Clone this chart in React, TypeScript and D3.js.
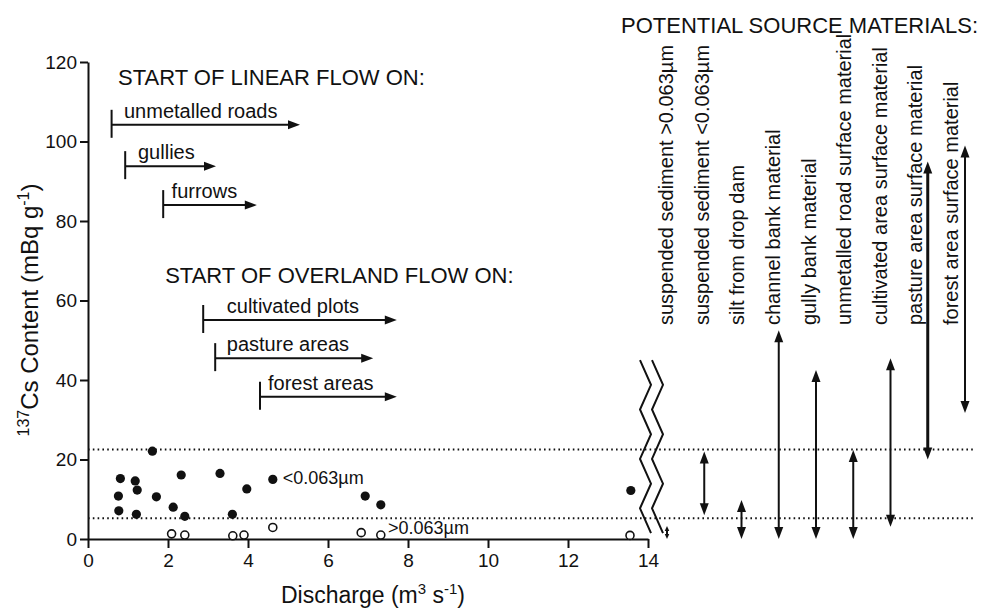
import React, { useEffect, useRef } from 'react';
import * as d3 from 'd3';

// axis ticks
const xTicks = [0, 2, 4, 6, 8, 10, 12, 14];
const yTicks = [0, 20, 40, 60, 80, 100, 120];

// suspended sediment <0.063um (filled dots): discharge, 137Cs
const fineQ = [0.77, 0.76, 0.81, 1.18, 1.23, 1.21, 1.61, 1.71, 2.13, 2.33, 2.42, 3.3, 3.61, 3.97, 4.62, 6.93, 7.32, 13.57];
const fineCs = [7.1, 10.8, 15.2, 14.6, 12.3, 6.2, 22.1, 10.6, 8.0, 16.1, 5.7, 16.5, 6.2, 12.6, 15.0, 10.8, 8.6, 12.2];

// suspended sediment >0.063um (open dots)
const coarseQ = [2.09, 2.42, 3.62, 3.9, 4.62, 6.83, 7.32, 13.55];
const coarseCs = [1.3, 1.0, 0.8, 1.0, 2.9, 1.6, 1.0, 0.9];

// dotted reference lines (range of <0.063um sediment)
const dottedLevels = [22.5, 5.2];

// start of linear / overland flow
const flowLabels = ['unmetalled roads', 'gullies', 'furrows', 'cultivated plots', 'pasture areas', 'forest areas'];
const flowStart = [0.59, 0.93, 1.88, 2.88, 3.18, 4.3];
const flowEnd = [5.3, 3.2, 4.22, 7.72, 7.13, 7.72];
const flowLevel = [104.2, 93.8, 84.0, 55.1, 45.5, 35.8];
const flowLabelQ = [0.9, 1.25, 2.09, 3.47, 3.47, 4.5];

// potential source materials: 137Cs range
const sources = [
  'suspended sediment >0.063\u00b5m',
  'suspended sediment <0.063\u00b5m',
  'silt from drop dam',
  'channel bank material',
  'gully bank material',
  'unmetalled road surface material',
  'cultivated area surface material',
  'pasture area surface material',
  'forest area surface material',
];
const sourceLow = [0, 6.0, 0, 0, 0, 0, 3.1, 20.0, 31.7];
const sourceHigh = [3.3, 22.0, 9.8, 52.5, 42.5, 22.4, 45.5, 95.0, 99.0];

const FONT = '"Liberation Sans", Arial, Helvetica, sans-serif';

const App = () => {
  const svgRef = useRef<SVGSVGElement>(null);

  useEffect(() => {
    const svg = d3.select(svgRef.current);
    const width = 993;
    const height = 610;
    svg.attr('width', width).attr('height', height);

    const x = d3.scaleLinear().domain([0, 14]).range([88, 648]);
    const y = d3.scaleLinear().domain([0, 120]).range([539, 62]);
    const arrowX = d3.scalePoint<string>().domain(sources).range([667, 965]);
    const labelX = d3.scalePoint<string>().domain(sources).range([667, 952]);

    const g = svg.append('g').style('font-family', FONT).attr('fill', '#111');

    // arrow head helper
    const head = (px: number, py: number, dir: string, len = 12, hw = 4.5) => {
      let pts: number[][] = [];
      if (dir === 'right') pts = [[px, py], [px - len, py - hw], [px - len, py + hw]];
      if (dir === 'up') pts = [[px, py], [px - hw, py + len], [px + hw, py + len]];
      if (dir === 'down') pts = [[px, py], [px - hw, py - len], [px + hw, py - len]];
      g.append('path').attr('d', 'M' + pts.map(p => p.join(',')).join('L') + 'Z').attr('fill', '#111');
    };

    // dotted lines
    dottedLevels.forEach(v => {
      g.append('line')
        .attr('x1', x(0)).attr('x2', 974)
        .attr('y1', y(v)).attr('y2', y(v))
        .attr('stroke', '#111').attr('stroke-width', 2)
        .attr('stroke-dasharray', '1.6 3.2');
    });

    // axes
    const xAxis = g.append('g').attr('transform', `translate(0,${y(0)})`)
      .call(d3.axisBottom(x).tickValues(xTicks).tickSize(9).tickSizeOuter(0).tickPadding(6));
    const yAxis = g.append('g').attr('transform', `translate(${x(0)},0)`)
      .call(d3.axisLeft(y).tickValues(yTicks).tickSize(8).tickSizeOuter(0).tickPadding(3));
    [xAxis, yAxis].forEach(a => {
      a.select('.domain').attr('stroke', '#111').attr('stroke-width', 2);
      a.selectAll('.tick line').attr('stroke', '#111').attr('stroke-width', 2);
      a.selectAll('.tick text').attr('fill', '#111').style('font-size', '19px').style('font-family', FONT);
    });

    // axis titles
    const xt = g.append('text').attr('x', 373).attr('y', 603).attr('text-anchor', 'middle').style('font-size', '23px');
    xt.append('tspan').text('Discharge (m');
    xt.append('tspan').attr('dy', -9).style('font-size', '15px').text('3');
    xt.append('tspan').attr('dy', 9).text(' s');
    xt.append('tspan').attr('dy', -9).style('font-size', '15px').text('-1');
    xt.append('tspan').attr('dy', 9).text(')');

    const yt = g.append('text').attr('transform', 'translate(38,310) rotate(-90)')
      .attr('text-anchor', 'middle').style('font-size', '24px');
    yt.append('tspan').attr('dy', -9).style('font-size', '16px').text('137');
    yt.append('tspan').attr('dy', 9).text('Cs Content (mBq g');
    yt.append('tspan').attr('dy', -9).style('font-size', '16px').text('-1');
    yt.append('tspan').attr('dy', 9).text(')');

    // points
    fineQ.forEach((q, i) => {
      g.append('circle').attr('cx', x(q)).attr('cy', y(fineCs[i])).attr('r', 4.6).attr('fill', '#111');
    });
    coarseQ.forEach((q, i) => {
      g.append('circle').attr('cx', x(q)).attr('cy', y(coarseCs[i])).attr('r', 4)
        .attr('fill', '#fff').attr('stroke', '#111').attr('stroke-width', 1.6);
    });
    g.append('text').attr('x', x(4.87)).attr('y', y(13.8)).style('font-size', '18px').text('<0.063\u00b5m');
    g.append('text').attr('x', x(7.5)).attr('y', y(1.3)).style('font-size', '18px').text('>0.063\u00b5m');

    // flow headers
    g.append('text').attr('x', x(0.75)).attr('y', y(114.2)).style('font-size', '22px').text('START OF LINEAR FLOW ON:');
    g.append('text').attr('x', x(1.93)).attr('y', y(64.4)).style('font-size', '22px').text('START OF OVERLAND FLOW ON:');

    // flow arrows
    flowLabels.forEach((lab, i) => {
      const x0 = x(flowStart[i]);
      const x1 = x(flowEnd[i]);
      const yy = y(flowLevel[i]);
      g.append('line').attr('x1', x0).attr('x2', x0).attr('y1', yy - 15).attr('y2', yy + 13)
        .attr('stroke', '#111').attr('stroke-width', 2);
      g.append('line').attr('x1', x0).attr('x2', x1 - 8).attr('y1', yy).attr('y2', yy)
        .attr('stroke', '#111').attr('stroke-width', 2);
      head(x1, yy, 'right');
      g.append('text').attr('x', x(flowLabelQ[i])).attr('y', yy - 7).style('font-size', '20px').text(lab);
    });

    // axis break
    const y0 = y(45);
    const y1 = y(1.5);
    [0, 12].forEach(off => {
      const pts: [number, number][] = d3.range(8).map(k => [
        x(14) - 8 + off + (k % 2 === 0 ? 0 : 11),
        y0 + (k * (y1 - y0)) / 7,
      ]);
      g.append('path').attr('d', d3.line()(pts)).attr('fill', 'none')
        .attr('stroke', '#111').attr('stroke-width', 2);
    });

    // source materials
    g.append('text').attr('x', 978).attr('y', 33).attr('text-anchor', 'end').style('font-size', '22px')
      .text('POTENTIAL SOURCE MATERIALS:');

    sources.forEach((s, i) => {
      g.append('text').attr('transform', `translate(${(labelX(s) as number) + 6},325) rotate(-90)`)
        .style('font-size', '20px').text(s);
      const ax = arrowX(s) as number;
      const top = y(sourceHigh[i]);
      const bot = y(sourceLow[i]);
      const len = Math.min(12, (bot - top) / 2.6);
      const hw = Math.min(4.5, len * 0.45);
      g.append('line').attr('x1', ax).attr('x2', ax).attr('y1', top + len - 1).attr('y2', bot - len + 1)
        .attr('stroke', '#111').attr('stroke-width', i === 7 ? 3 : 2);
      head(ax, top, 'up', len, hw);
      head(ax, bot, 'down', len, hw);
    });

    return () => {
      svg.selectAll('*').remove();
    };
  }, []);

  return <svg ref={svgRef} style={{ position: 'absolute', left: 0, top: 0, background: '#fff' }}></svg>;
};

export default App;
